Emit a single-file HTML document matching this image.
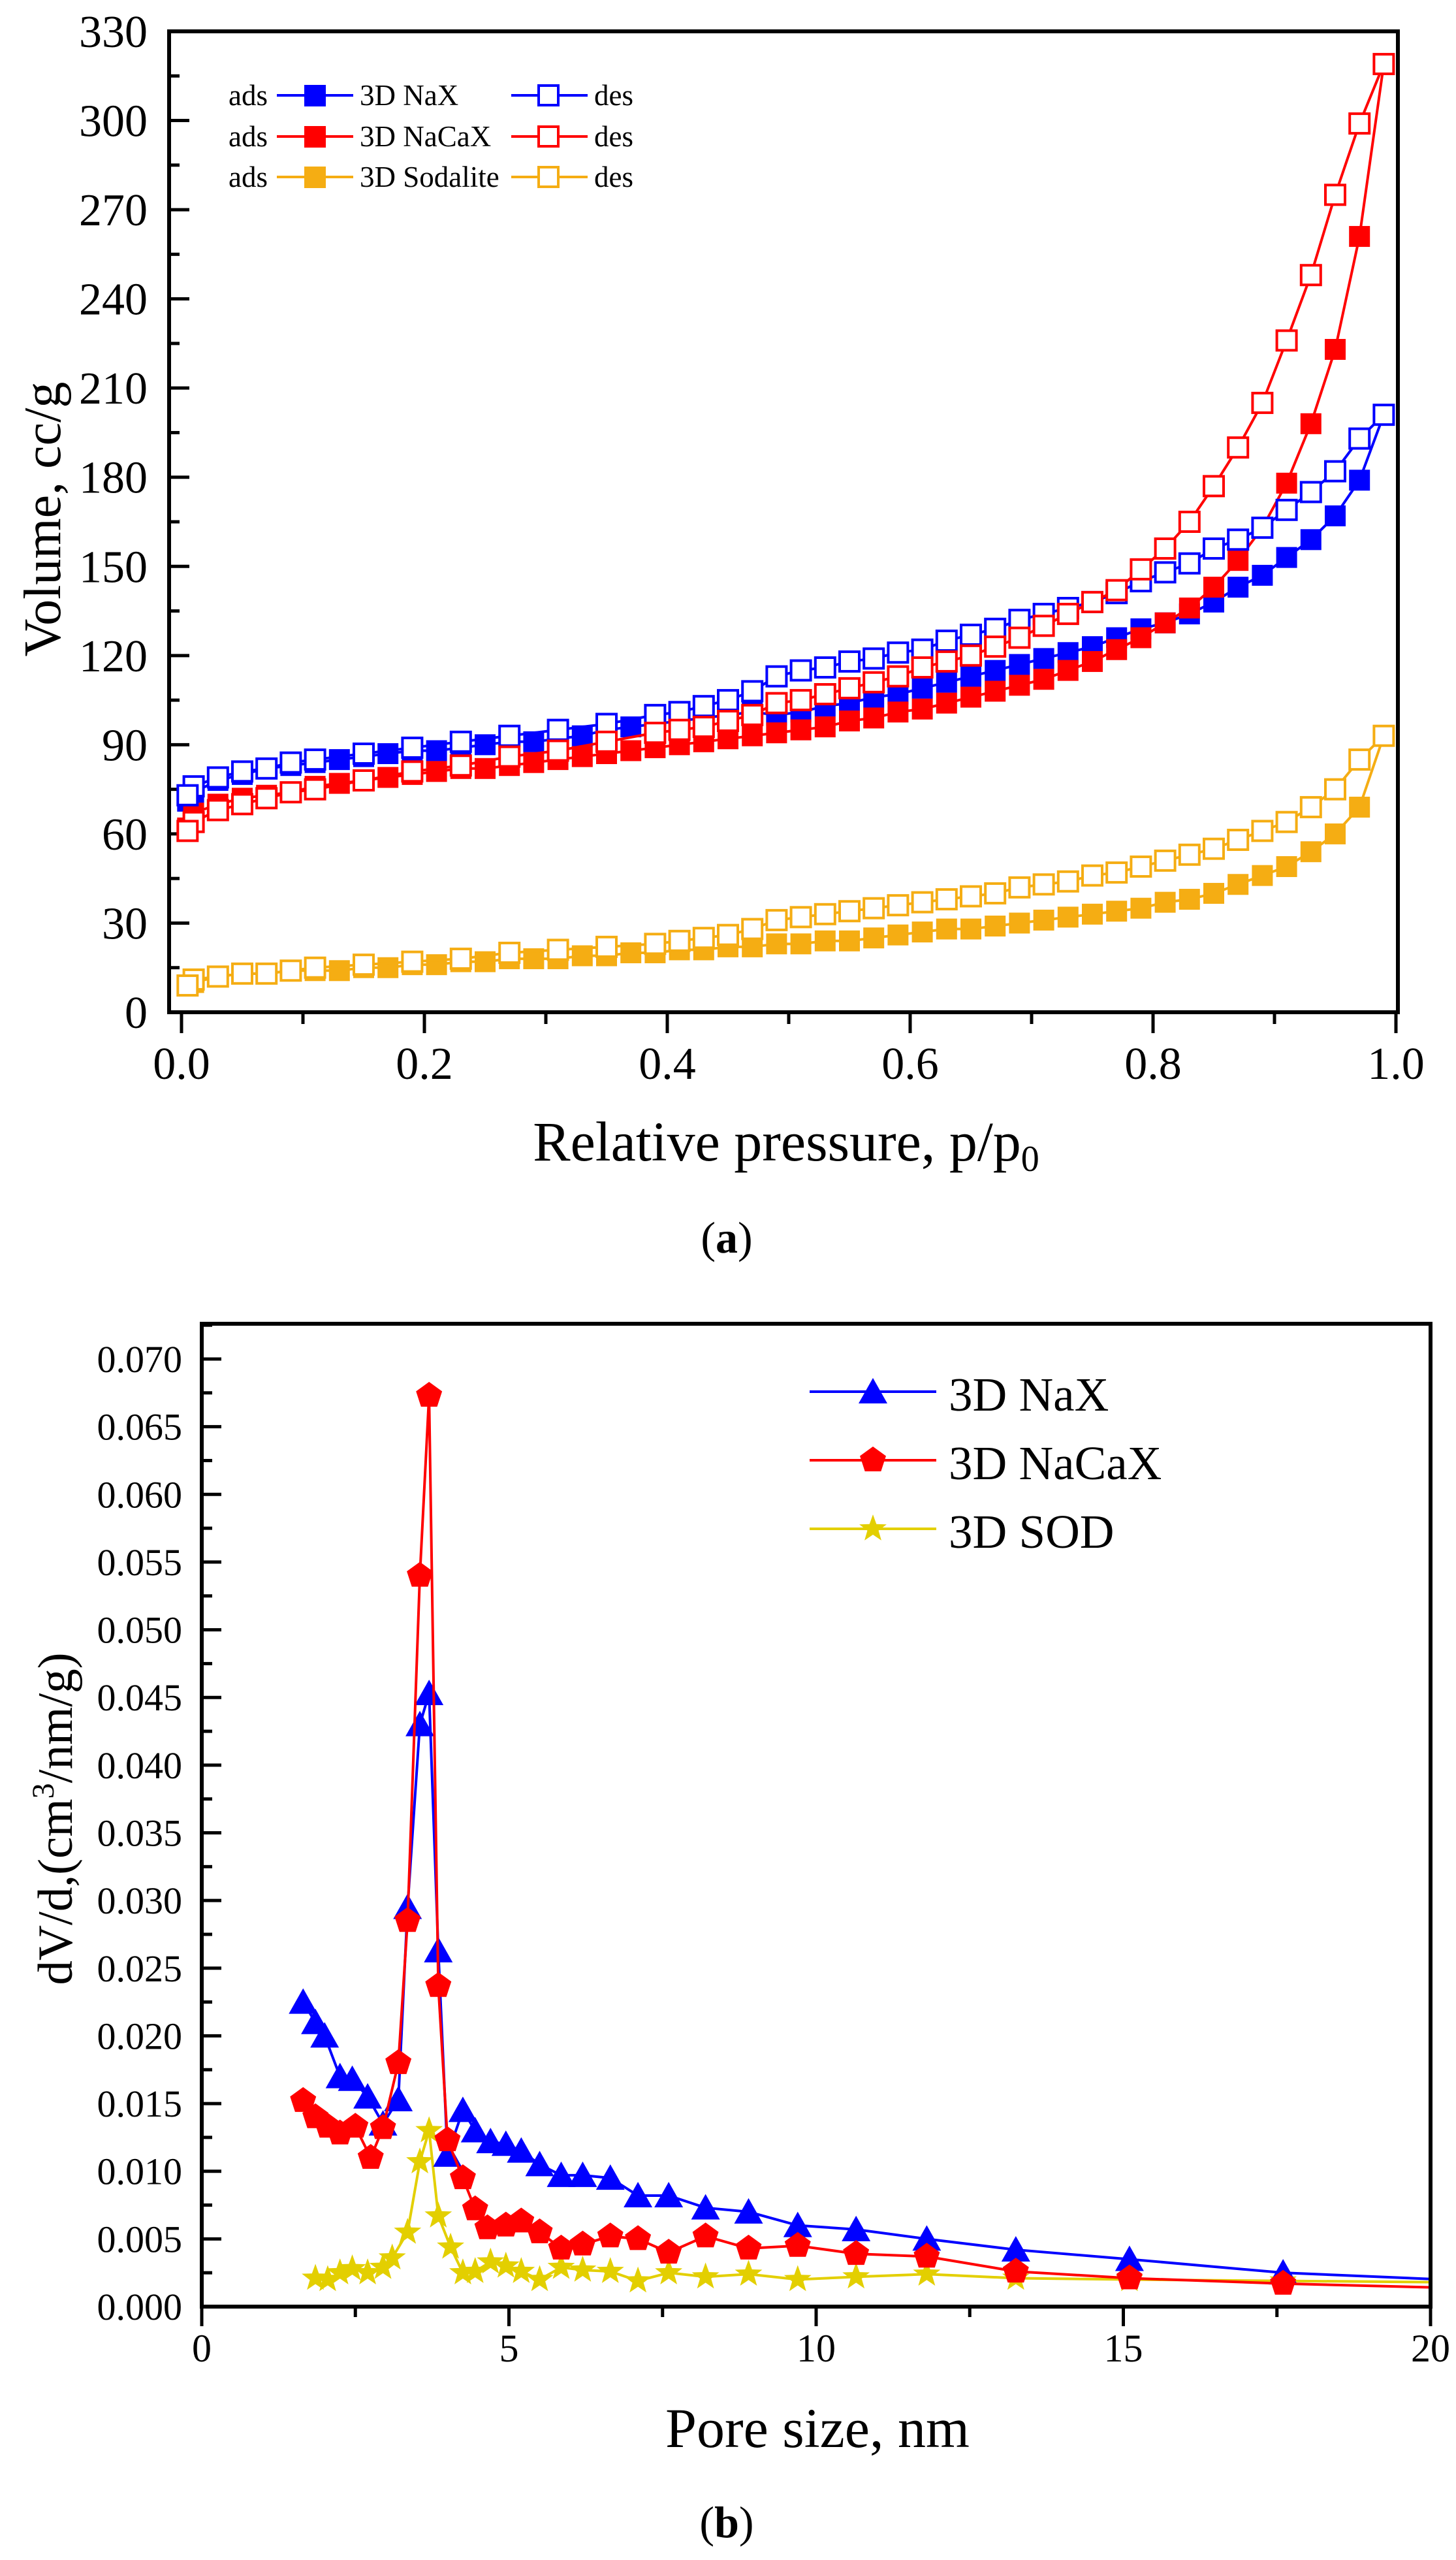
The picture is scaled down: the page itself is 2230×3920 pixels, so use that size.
<!DOCTYPE html>
<html><head><meta charset="utf-8"><style>
html,body{margin:0;padding:0;background:#fff;}
svg{display:block;font-family:"Liberation Serif",serif;}
</style></head><body>
<svg id="fig" width="2230" height="3920" viewBox="0 0 2230 3920" xmlns="http://www.w3.org/2000/svg">
<g id="ga"></g>
<g id="gb"></g>
</svg>
<script>
// ---------- Chart (a) data ----------
const aX = [0.005,0.01,0.03,0.05,0.07,0.09,0.11,0.13,0.15,0.17,0.19,0.21,0.23,0.25,0.27,0.29,0.31,0.33,0.35,0.37,0.39,0.41,0.43,0.45,0.47,0.49,0.51,0.53,0.55,0.57,0.59,0.61,0.63,0.65,0.67,0.69,0.71,0.73,0.75,0.77,0.79,0.81,0.83,0.85,0.87,0.89,0.91,0.93,0.95,0.97,0.99];
const naxAds = [71,74,78,80,82,83,84,85,86,87,88,88,89,90,91,91,92,93,95,96,97,98,99,100,101,100,101,103,104,106,107,109,111,113,115,117,119,121,123,126,129,131,134,138,143,147,153,159,167,179,201];
const nacaxAds = [62,67,70,72,73,74,76,77,78,79,80,81,82,82,83,84,85,86,87,88,89,90,91,92,93,94,95,96,98,99,101,102,104,106,108,110,112,115,118,122,126,131,136,143,152,163,178,198,223,261,319];
const sodAds = [9,10,12,13,13,14,14,14,15,15,16,16,17,17,18,18,18,19,19,20,20,21,21,22,22,23,23,24,24,25,26,27,28,28,29,30,31,32,33,34,35,37,38,40,43,46,49,54,60,69,93];
const aXd = [0.99,0.97,0.95,0.93,0.91,0.89,0.87,0.85,0.83,0.81,0.79,0.77,0.75,0.73,0.71,0.69,0.67,0.65,0.63,0.61,0.59,0.57,0.55,0.53,0.51,0.49,0.47,0.45,0.43,0.41,0.39,0.35,0.31,0.27,0.23,0.19,0.15,0.11,0.09,0.07,0.05,0.03,0.01,0.005];
const naxDes = [201,193,182,175,169,163,159,156,151,148,145,141,138,136,134,132,129,127,125,122,121,119,118,116,115,113,108,105,103,101,100,97,95,93,91,89,87,85,84,82,81,79,76,73];
const nacaxDes = [319,299,275,248,226,205,190,177,165,156,149,142,138,134,130,126,123,120,118,116,113,111,109,107,105,104,100,98,96,95,94,91,88,86,83,81,78,75,74,72,70,68,64,61];
const sodDes = [93,85,75,69,64,61,58,55,53,51,49,47,46,44,43,42,40,39,38,37,36,35,34,33,32,31,28,26,25,24,23,22,21,20,18,17,16,15,14,13,13,12,11,9];
const aXTicks = ["0.0","0.2","0.4","0.6","0.8","1.0"];
const aYTicks = ["0","30","60","90","120","150","180","210","240","270","300","330"];

// ---------- Chart (b) data ----------
const bNaxX = [1.65,1.85,2.0,2.25,2.45,2.7,2.95,3.2,3.35,3.55,3.7,3.85,4.0,4.25,4.45,4.7,4.95,5.2,5.5,5.85,6.2,6.65,7.1,7.6,8.2,8.9,9.7,10.65,11.8,13.25,15.1,17.6,20.2];
const bNaxY = [0.0225,0.021,0.020,0.017,0.0168,0.0155,0.0135,0.0153,0.0295,0.043,0.0453,0.0263,0.0112,0.0145,0.013,0.0122,0.012,0.0115,0.0105,0.0097,0.0097,0.0095,0.0082,0.0082,0.0073,0.007,0.006,0.0057,0.005,0.0042,0.0035,0.0025,0.002];
const bNacaxX = [1.65,1.85,2.05,2.25,2.5,2.75,2.95,3.2,3.35,3.55,3.7,3.85,4.0,4.25,4.45,4.65,4.95,5.2,5.5,5.85,6.2,6.65,7.1,7.6,8.2,8.9,9.7,10.65,11.8,13.25,15.1,17.6,20.2];
const bNacaxY = [0.0152,0.014,0.0133,0.0128,0.0133,0.011,0.0132,0.018,0.0285,0.054,0.0673,0.0237,0.0123,0.0095,0.0072,0.0058,0.006,0.0063,0.0055,0.0043,0.0046,0.0052,0.005,0.004,0.0052,0.0043,0.0045,0.0039,0.0037,0.0026,0.0021,0.0017,0.0014];
const bSodX = [1.85,2.05,2.25,2.45,2.7,2.95,3.1,3.35,3.55,3.7,3.85,4.05,4.25,4.45,4.7,4.95,5.2,5.5,5.85,6.2,6.65,7.1,7.6,8.2,8.9,9.7,10.65,11.8,13.25,15.1,17.6,20.2];
const bSodY = [0.0021,0.002,0.0025,0.0028,0.0025,0.0029,0.0036,0.0055,0.0107,0.013,0.0067,0.0044,0.0025,0.0026,0.0033,0.003,0.0026,0.002,0.0029,0.0027,0.0026,0.0019,0.0025,0.0022,0.0024,0.002,0.0022,0.0024,0.0021,0.002,0.0019,0.0018];
const bXTicks = ["0","5","10","15","20"];
const bYTicks = ["0.000","0.005","0.010","0.015","0.020","0.025","0.030","0.035","0.040","0.045","0.050","0.055","0.060","0.065","0.070"];

const NS = "http://www.w3.org/2000/svg";
function mk(tag, attrs, parent){const e=document.createElementNS(NS,tag);for(const k in attrs)e.setAttribute(k,attrs[k]);parent.appendChild(e);return e;}

// ---------- Chart (a) ----------
(function(){
  const g = document.getElementById('ga');
  const L=259,R=2141,T=48,B=1550;
  const x0=278, x1=2138;
  const sx = v => x0 + v*(x1-x0);
  const sy = v => B - v/330*(B-T);
  for(let i=0;i<=10;i++){
    const v=i/10, major=i%2===0;
    const t=mk('line',{x1:sx(v),x2:sx(v),y1:B,y2:B+(major?32:18),stroke:'#000','stroke-width':5},g);
    
    
  }
  aXTicks.forEach((s,i)=>{
    const t=mk('text',{x:sx(i*0.2),y:1652,'text-anchor':'middle','font-size':70},g);t.textContent=s;
    
    
  });
  for(let i=0;i<22;i++){
    const v=i*15, major=i%2===0;
    const t=mk('line',{x1:L,x2:L+(major?31:16),y1:sy(v),y2:sy(v),stroke:'#000','stroke-width':5},g);
    
    
  }
  aYTicks.forEach((s,i)=>{
    const t=mk('text',{x:226,y:sy(i*30)+24,'text-anchor':'end','font-size':70},g);t.textContent=s;
    
    
  });
  const series=[
    {x:aX,y:naxAds,c:'#0000ff',fill:true,n:'nax-ads'},
    {x:aX,y:nacaxAds,c:'#ff0000',fill:true,n:'nacax-ads'},
    {x:aX,y:sodAds,c:'#f5ad13',fill:true,n:'sodalite-ads'},
    {x:aXd,y:sodDes,c:'#f5ad13',fill:false,n:'sodalite-des'},
    {x:aXd,y:naxDes,c:'#0000ff',fill:false,n:'nax-des'},
    {x:aXd,y:nacaxDes,c:'#ff0000',fill:false,n:'nacax-des'}
  ];
  series.forEach(s=>{
    const pts=s.x.map((v,i)=>sx(v)+','+sy(s.y[i])).join(' ');
    const pl=mk('polyline',{points:pts,fill:'none',stroke:s.c,'stroke-width':4},g);
    
    
    s.x.forEach((v,i)=>{
      const m=s.fill?mk('rect',{x:sx(v)-16,y:sy(s.y[i])-16,width:32,height:32,fill:s.c},g)
                    :mk('rect',{x:sx(v)-15,y:sy(s.y[i])-15,width:30,height:30,fill:'#fff',stroke:s.c,'stroke-width':4},g);
      
      
    });
  });
  const fr=mk('rect',{x:L,y:T,width:R-L,height:B-T,fill:'none',stroke:'#000','stroke-width':6},g);
  
  
  const rows=[['#0000ff','3D NaX',146],['#ff0000','3D NaCaX',209],['#f5ad13','3D Sodalite',271]];
  rows.forEach(r=>{
    const lg=mk('g',{},g);
    
    
    let t=mk('text',{x:350,y:r[2]+15,'font-size':45},lg);t.textContent='ads';
    mk('line',{x1:424,x2:541,y1:r[2],y2:r[2],stroke:r[0],'stroke-width':4},lg);
    mk('rect',{x:466,y:r[2]-16,width:33,height:33,fill:r[0]},lg);
    t=mk('text',{x:551,y:r[2]+15,'font-size':45},lg);t.textContent=r[1];
    mk('line',{x1:783,x2:900,y1:r[2],y2:r[2],stroke:r[0],'stroke-width':4},lg);
    mk('rect',{x:825,y:r[2]-15,width:30,height:30,fill:'#fff',stroke:r[0],'stroke-width':4},lg);
    t=mk('text',{x:910,y:r[2]+15,'font-size':45},lg);t.textContent='des';
  });
  let t=mk('text',{x:1204,y:1777,'text-anchor':'middle','font-size':86},g);
  t.innerHTML='Relative pressure, p/p<tspan font-size="56" dy="16">0</tspan>';
  
  
  t=mk('text',{x:0,y:0,'text-anchor':'middle','font-size':80,transform:'translate(92,795) rotate(-90)'},g);
  t.textContent='Volume, cc/g';
  
  
  t=mk('text',{x:1113,y:1918,'text-anchor':'middle','font-size':68},g);
  t.innerHTML='(<tspan font-weight="bold">a</tspan>)';
  
  
})();

// ---------- Chart (b) ----------
(function(){
  const g=document.getElementById('gb');
  const L=309,R=2191,T=2027,B=3532;
  const sx=v=>L+v/20*(R-L);
  const sy=v=>B - v/0.070*(B-2081);
  const clip=mk('clipPath',{id:'clipb'},g);
  mk('rect',{x:L,y:T,width:R-L,height:B-T},clip);
  for(let i=0;i<=8;i++){
    const v=i*2.5, major=i%2===0;
    const t=mk('line',{x1:sx(v),x2:sx(v),y1:B,y2:B+(major?30:16),stroke:'#000','stroke-width':5},g);
    
    
  }
  bXTicks.forEach((s,i)=>{
    const t=mk('text',{x:sx(i*5),y:3616,'text-anchor':'middle','font-size':60},g);t.textContent=s;
    
    
  });
  for(let i=0;i<=29;i++){
    const v=i*0.0025, major=i%2===0;
    const t=mk('line',{x1:L,x2:L+(major?30:16),y1:sy(v),y2:sy(v),stroke:'#000','stroke-width':5},g);
    
    
  }
  bYTicks.forEach((s,i)=>{
    const t=mk('text',{x:279,y:sy(i*0.005)+20,'text-anchor':'end','font-size':58},g);t.textContent=s;
    
    
  });
  function marker(type,cx,cy,c,parent){
    let p;
    if(type==='tri'){p=`${cx},${cy-21} ${cx+22},${cy+18} ${cx-22},${cy+18}`;}
    else if(type==='pent'){const r=21;p=[0,1,2,3,4].map(k=>{const a=-Math.PI/2+k*2*Math.PI/5;return (cx+r*Math.cos(a))+','+(cy+r*Math.sin(a));}).join(' ');}
    else {const r1=22,r2=9;p=[];for(let k=0;k<10;k++){const a=-Math.PI/2+k*Math.PI/5;const r=k%2?r2:r1;p.push((cx+r*Math.cos(a))+','+(cy+r*Math.sin(a)));}p=p.join(' ');}
    return mk('polygon',{points:p,fill:c},parent);
  }
  const series=[
    {x:bNaxX,y:bNaxY,c:'#0000ff',m:'tri',n:'nax'},
    {x:bNacaxX,y:bNacaxY,c:'#ff0000',m:'pent',n:'nacax'},
    {x:bSodX,y:bSodY,c:'#e3cf00',m:'star',n:'sod'}
  ];
  const order=[series[2],series[0],series[1]];
  order.forEach(s=>{
    const sg=mk('g',{'clip-path':'url(#clipb)'},g);
    
    
    const pts=s.x.map((v,i)=>sx(v)+','+sy(s.y[i])).join(' ');
    mk('polyline',{points:pts,fill:'none',stroke:s.c,'stroke-width':4},sg);
    s.x.forEach((v,i)=>{
      if(v>19.5) return;
      const m=marker(s.m,sx(v),sy(s.y[i]),s.c,sg);
      
      
    });
  });
  const fr=mk('rect',{x:L,y:T,width:R-L,height:B-T,fill:'none',stroke:'#000','stroke-width':6},g);
  
  
  const rows=[['#0000ff','tri','3D NaX',2131],['#ff0000','pent','3D NaCaX',2236],['#e3cf00','star','3D SOD',2341]];
  rows.forEach(r=>{
    const lg=mk('g',{},g);
    
    
    mk('line',{x1:1240,x2:1434,y1:r[3],y2:r[3],stroke:r[0],'stroke-width':4},lg);
    marker(r[1],1337,r[3],r[0],lg);
    const t=mk('text',{x:1453,y:r[3]+29,'font-size':73},lg);t.textContent=r[2];
  });
  let t=mk('text',{x:1252,y:3747,'text-anchor':'middle','font-size':86},g);
  t.textContent='Pore size, nm';
  
  
  t=mk('text',{x:0,y:0,'text-anchor':'middle','font-size':75,transform:'translate(110,2785) rotate(-90)'},g);
  t.innerHTML='dV/d,(cm<tspan font-size="48" dy="-28">3</tspan><tspan dy="28">/nm/g)</tspan>';
  
  
  t=mk('text',{x:1113,y:3885,'text-anchor':'middle','font-size':68},g);
  t.innerHTML='(<tspan font-weight="bold">b</tspan>)';
  
  
})();
</script>
</body></html>
